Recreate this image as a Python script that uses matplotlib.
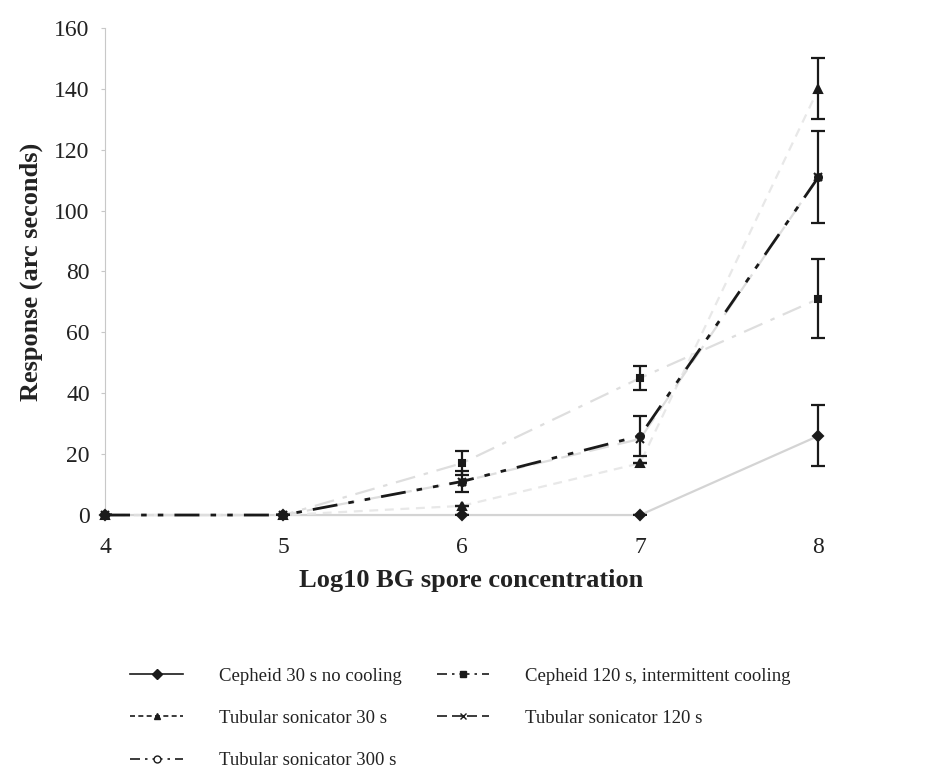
import matplotlib.pyplot as plt
from matplotlib.lines import Line2D

plt.rcParams['font.family'] = ['Liberation Serif', 'DejaVu Serif']

# log10 spore concentration
conc = [4, 5, 6, 7, 8]

# responses (arc seconds) and error half-widths
cepheid_30 = [0, 0, 0, 0, 26]
cepheid_30_err = [0, 0, 0, 0, 10]
cepheid_120 = [0, 0, 17, 45, 71]
cepheid_120_err = [0, 0, 4, 4, 13]
tubular_30 = [0, 0, 3, 17, 140]
tubular_30_err = [0, 0, 0, 0, 10]
tubular_120 = [0, 0, 11, 25, 111]
tubular_300 = [0, 0, 11, 26, 111]
tubular_300_err = [0, 0, 3.5, 6.5, 15]

labels = ['Cepheid 30 s no cooling', 'Cepheid 120 s, intermittent cooling',
          'Tubular sonicator 30 s', 'Tubular sonicator 120 s',
          'Tubular sonicator 300 s']

fig = plt.figure(figsize=(9.46, 7.76), dpi=100)
ax = fig.add_axes([0.111, 0.3363, 0.773, 0.6277])

faint = '#dedede'
dark = '#1a1a1a'

#series drawn faint like the scan, markers and error bars dark
series = [
    (cepheid_30, cepheid_30_err, '-', 'D', '#d4d4d4', 5),
    (cepheid_120, cepheid_120_err, (0, (9, 4, 2, 4)), 's', faint, 5),
    (tubular_30, tubular_30_err, (0, (4, 3)), '^', '#e8e8e8', 6),
    (tubular_120, None, (0, (9, 4)), 'x', faint, 6),
    (tubular_300, tubular_300_err, (0, (9, 4, 2, 4, 2, 4)), 'o', dark, 5),
]
for vals, err, ls, mk, col, ms in series:
    ax.plot(conc, vals, linestyle=ls, color=col, lw=2.0 if col == dark else 1.6,
            zorder=2, clip_on=False)
    ax.plot(conc, vals, linestyle='none', marker=mk, color=dark, ms=ms,
            mew=1.5, zorder=4, clip_on=False)
    if err is not None:
        ax.errorbar(conc, vals, yerr=err, fmt='none', ecolor=dark, elinewidth=1.6,
                    capsize=5, capthick=1.6, zorder=3)

ax.set_xlim(4, 8.1)
ax.set_ylim(0, 160)
ax.set_xticks(conc)
ax.set_yticks(range(0, 161, 20))
for s in ['top', 'right', 'bottom']:
    ax.spines[s].set_visible(False)
ax.spines['left'].set_color('#c8c8c8')
ax.tick_params(axis='y', length=3, color='#c8c8c8', labelsize=17, labelcolor='#222222', pad=8)
ax.tick_params(axis='x', length=0, labelsize=17, labelcolor='#222222', pad=16)

ax.set_xlabel('Log10 BG spore concentration', fontsize=19, fontweight='bold',
              color='#222222', labelpad=8)
ax.set_ylabel('Response (arc seconds)', fontsize=19, fontweight='bold',
              color='#222222', labelpad=8)

# legend with dark proxy handles, filled row by row
styles = [('-', 'D'), ((0, (6, 3, 1.5, 3)), 's'), ((0, (3, 2)), '^'),
          ((0, (6, 3)), 'x'), ((0, (6, 3, 1.5, 3)), 'o')]
handles = []
for (ls, mk) in styles:
    handles.append(Line2D([], [], color=dark, linestyle=ls, lw=1.2, marker=mk,
                          ms=5, mfc=dark if mk != 'o' else 'white', mec=dark))
order = [0, 2, 4, 1, 3]
fig.legend([handles[i] for i in order], [labels[i] for i in order],
           loc='upper left', bbox_to_anchor=(0.128, 0.152), ncol=2, frameon=False,
           fontsize=13.5, handlelength=2.8, handletextpad=1.9, columnspacing=1.9,
           labelspacing=1.35, borderpad=0, labelcolor='#222222')

fig.savefig('out.png', dpi=100, facecolor='white')
